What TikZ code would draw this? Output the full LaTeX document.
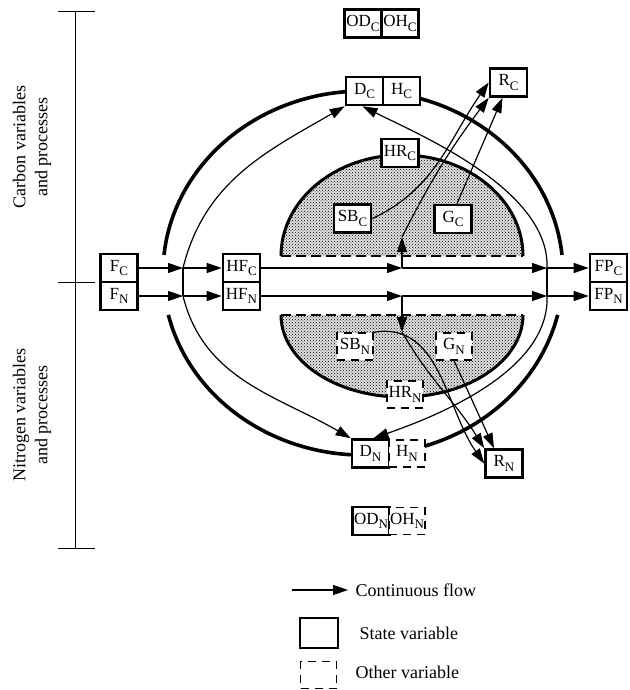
\documentclass[tikz,border=0pt]{standalone}
\usepackage{fontspec}
\setmainfont{Liberation Serif}
\usepackage{tikz}
\usetikzlibrary{arrows.meta, patterns}

\newcommand{\lsub}[1]{\raisebox{-0.6ex}{\fontsize{13}{13}\selectfont #1}}

\tikzset{
  statevar/.style={draw, line width=2.6pt, fill=white, minimum width=37pt, minimum height=28pt, inner sep=0pt, font=\fontsize{17}{20}\selectfont},
  othervar/.style={draw, line width=1.3pt, dash pattern=on 8pt off 6pt, fill=white, minimum width=36pt, minimum height=27pt, inner sep=0pt, font=\fontsize{17}{20}\selectfont},
  flow/.style={line width=1.2pt, -{Triangle[length=15pt,width=10pt]}},
  thinline/.style={line width=1.2pt},
  rim/.style={line width=3.6pt},
  pool/.style={pattern=crosshatch dots, pattern color=black},
}

\begin{document}
\begin{tikzpicture}[x=1pt, y=1pt, font=\fontsize{18}{22}\selectfont]
		\useasboundingbox (0,0) rectangle (629,-690);

		% left bracket
		\draw[line width=1pt] (75,-12) -- (75,-548);
		\foreach \y in {12,282,548}
			\draw[line width=1pt] (58,-\y) -- (95,-\y);
		\node[rotate=90, align=center] (carblbl) at (32,-147) {Carbon variables\\and processes};
		\node[rotate=90, align=center] (nitrlbl) at (32,-415) {Nitrogen variables\\and processes};

		% shaded pools
		\fill[black!12] (281,-256) arc[start angle=180, end angle=0, x radius=121, y radius=101] -- cycle;
		\fill[pool] (281,-256) arc[start angle=180, end angle=0, x radius=121, y radius=101] -- cycle;
		\draw[line width=3pt] (281,-256) arc[start angle=180, end angle=0, x radius=121, y radius=101];
		\fill[black!12] (523,-315) arc[start angle=0, end angle=-180, x radius=121, y radius=82] -- cycle;
		\fill[pool] (523,-315) arc[start angle=0, end angle=-180, x radius=121, y radius=82] -- cycle;
		\draw[line width=3pt] (523,-315) arc[start angle=0, end angle=-180, x radius=121, y radius=82];
		\draw[line width=2pt, dash pattern=on 10pt off 5pt] (281,-256) -- (523,-256);
		\draw[line width=2pt, dash pattern=on 10pt off 5pt] (281,-315) -- (523,-315);

		% outer rim, open at the flows
		\draw[rim] (363,-273) ++(5.7:200 and 182) arc[start angle=5.7, end angle=174.3, x radius=200, y radius=182];
		\draw[rim] (363,-273) ++(193.3:200 and 182) arc[start angle=193.3, end angle=346.7, x radius=200, y radius=182];

		% carbon boxes
		\node[statevar] (ODC) at (363,-23.5) {OD\lsub{C}};
		\node[statevar] (OHC) at (400,-23.5) {OH\lsub{C}};
		\node[statevar] (DC) at (364.5,-91) {D\lsub{C}};
		\node[statevar] (HC) at (401.5,-91) {H\lsub{C}};
		\node[statevar] (RC) at (508.5,-82.5) {R\lsub{C}};
		\node[statevar] (HRC) at (400,-153) {HR\lsub{C}};
		\node[statevar] (SBC) at (352.5,-218.5) {SB\lsub{C}};
		\node[statevar] (GC) at (453,-219) {G\lsub{C}};
		\node[statevar] (FC) at (119,-268) {F\lsub{C}};
		\node[statevar] (HFC) at (241.5,-268) {HF\lsub{C}};
		\node[statevar] (FPC) at (608.5,-268) {FP\lsub{C}};

		% nitrogen boxes
		\node[statevar] (FN) at (119,-296) {F\lsub{N}};
		\node[statevar] (HFN) at (241.5,-296) {HF\lsub{N}};
		\node[statevar] (FPN) at (608.5,-296) {FP\lsub{N}};
		\node[othervar] (SBN) at (355,-346.5) {SB\lsub{N}};
		\node[othervar] (GN) at (454,-346.5) {G\lsub{N}};
		\node[othervar] (HRN) at (405,-394.5) {HR\lsub{N}};
		\node[statevar] (DN) at (370.5,-453.5) {D\lsub{N}};
		\node[othervar] (HN) at (407,-453.5) {H\lsub{N}};
		\node[statevar] (RN) at (504,-463.5) {R\lsub{N}};
		\node[statevar] (ODN) at (371,-521) {OD\lsub{N}};
		\node[othervar] (OHN) at (407,-521) {OH\lsub{N}};

		% junctions
		\coordinate (j1) at (183,-268);
		\coordinate (j2) at (183,-296);
		\coordinate (jc) at (402,-268);
		\coordinate (jn) at (402,-296);
		\coordinate (j3) at (547,-268);
		\coordinate (j4) at (547,-296);
		\coordinate (kc) at (402,-237);
		\coordinate (kn) at (402,-332);

		% main flows
		\draw[flow] (FC) -- (j1);
		\draw[flow] (j1) -- (HFC);
		\draw[flow] (HFC) -- (jc);
		\draw[flow] (jc) -- (j3);
		\draw[flow] (j3) -- (FPC);
		\draw[flow] (FN) -- (j2);
		\draw[flow] (j2) -- (HFN);
		\draw[flow] (HFN) -- (jn);
		\draw[flow] (jn) -- (j4);
		\draw[flow] (j4) -- (FPN);
		\draw[flow] (jc) -- (kc);
		\draw[flow] (jn) -- (kn);

		% side flows to D
		\draw[thinline] (j1) -- (j2);
		\draw[thinline] (j3) -- (j4);
		\draw[flow] (j1) to[out=76, in=210] (DC.south west);
		\draw[flow] (j2) to[out=-76, in=150] (DN.north west);
		\draw[flow] (j3) .. controls (550,-190) and (420,-135) .. ([xshift=-2pt]DC.south);
		\draw[flow] (j4) .. controls (550,-370) and (440,-415) .. ([xshift=3pt]DN.north);

		% flows to R
		\draw[flow] (SBC.east) to[out=25, in=235] (RC.west);
		\draw[flow] (kc) to[out=63, in=233] (RC.south west);
		\draw[flow] ([xshift=4pt]GC.north) -- ([xshift=-6pt]RC.south);
		\draw[flow] (SBN.north east) to[out=10, in=125] (RN.west);
		\draw[flow] (kn) to[out=-60, in=122] (RN.north west);
		\draw[flow] (GN.south) -- ([xshift=-10pt]RN.north);

		% legend
		\node[anchor=west] (lflow) at (352,-590) {Continuous flow};
		\coordinate (lstart) at (292,-590);
		\draw[flow] (lstart) -- ([xshift=-4pt]lflow.west);
		\node[statevar, minimum width=38pt, minimum height=30pt] (lstate) at (319,-633) {};
		\node[anchor=west] (lstatetxt) at (356,-633) {State variable};
		\node[othervar, minimum height=27pt] (lother) at (318.5,-675) {};
		\node[anchor=west] (lothertxt) at (352,-672) {Other variable};
	\end{tikzpicture}
\end{document}
